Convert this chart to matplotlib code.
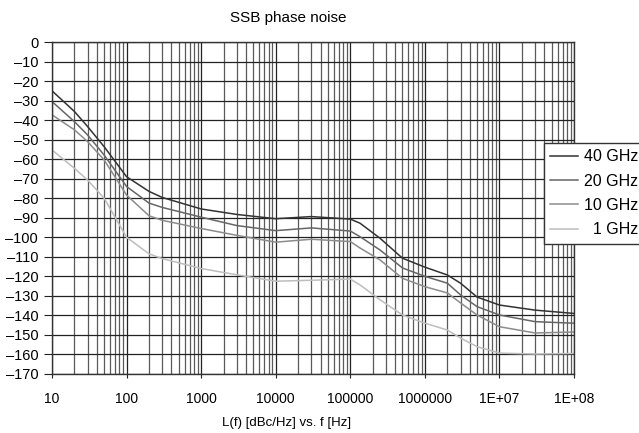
import matplotlib
matplotlib.use('Agg')
import matplotlib.pyplot as plt
import numpy as np

# offset frequency [Hz]
freq = [10, 20, 30, 50, 100, 200, 300, 1000, 3000, 10000, 30000, 100000,
        135000, 250000, 500000, 1e6, 2e6, 3e6, 5e6, 1e7, 3e7, 1e8]

# L(f) [dBc/Hz]
noise_40 = [-25, -35.6, -43.3, -53.6, -69, -76.5, -79.6, -85.5, -88.3, -90.5, -89.4, -90.7,
            -92.8, -100.5, -110.7, -115.3, -119.3, -123.5, -130.6, -134.7, -137.3, -139]
noise_20 = [-30.5, -40.8, -47.6, -57.9, -74, -82.5, -84.7, -89.7, -94, -96.6, -95.2, -96.8,
            -99.7, -106.5, -115.7, -120, -123.5, -129.5, -135.5, -139.8, -143.2, -144]
noise_10 = [-37.3, -45, -51, -60.4, -78.4, -89, -91.3, -95.5, -99, -102.5, -101, -102.2,
            -105.5, -111.6, -121, -125.3, -128.5, -133.6, -139.8, -145.8, -149, -148.5]
noise_1 = [-55.3, -64.7, -70.7, -80, -100, -108.5, -110.9, -116, -119.2, -122.5, -122, -121.4,
           -124.4, -132, -139.8, -144, -147.5, -151.6, -156, -159.3, -159.8, -159.5]

labels = ['40 GHz', '20 GHz', '10 GHz', '\u20071 GHz']
colors = ['#333333', '#666666', '#8c8c8c', '#bdbdbd']

xticks = [10, 100, 1000, 10000, 100000, 1000000, 1e7, 1e8]
xticklabels = ['10', '100', '1000', '10000', '100000', '1000000', '1E+07', '1E+08']
yticks = list(range(-170, 1, 10))
yticklabels = [str(v).replace('-', '\u2013') for v in yticks]

plt.rcParams['font.family'] = ['Liberation Sans', 'DejaVu Sans']

fig = plt.figure(figsize=(6.39, 4.33), dpi=100)
ax = fig.add_axes([0.0814, 0.1363, 0.8170, 0.7667])

for vals, lab, col in zip([noise_40, noise_20, noise_10, noise_1], labels, colors):
    ax.plot(freq, vals, color=col, lw=1.1, label=lab)

ax.set_xscale('log')
ax.set_xlim(10, 1e8)
ax.set_ylim(-170, 0)

ax.set_xticks(xticks)
ax.set_xticklabels(xticklabels, fontsize=10)
ax.set_yticks(yticks)
ax.set_yticklabels(yticklabels, fontsize=10.5)
ax.xaxis.set_minor_locator(matplotlib.ticker.LogLocator(base=10, subs=np.arange(2, 10), numticks=20))
ax.xaxis.set_minor_formatter(matplotlib.ticker.NullFormatter())
ax.tick_params(axis='x', which='major', length=3, pad=10, color='#222222')
ax.tick_params(axis='x', which='minor', length=0)
ax.tick_params(axis='y', length=6, pad=4, color='#222222')

ax.grid(True, which='major', axis='both', color='#222222', lw=0.9)
ax.grid(True, which='minor', axis='x', color='#5a5a5a', lw=0.9)
ax.set_axisbelow(True)
for s in ax.spines.values():
    s.set_color('#333333')
    s.set_linewidth(1.0)

fig.text(0.451, 0.958, 'SSB phase noise', ha='center', va='center', fontsize=11)
fig.text(0.448, 0.023, 'L(f) [dBc/Hz] vs. f [Hz]', ha='center', va='center', fontsize=9.5)

leg = ax.legend(loc='upper left', bbox_to_anchor=(544 / 639, 1 - 143 / 433),
                bbox_transform=fig.transFigure, fontsize=11.5, frameon=True,
                fancybox=False, handlelength=1.7, handletextpad=0.4,
                labelspacing=0.58, borderpad=0.4, borderaxespad=0)
leg.get_frame().set_edgecolor('#333333')
leg.get_frame().set_linewidth(1.0)
leg.get_frame().set_alpha(1)

fig.savefig('out.png', dpi=100)
